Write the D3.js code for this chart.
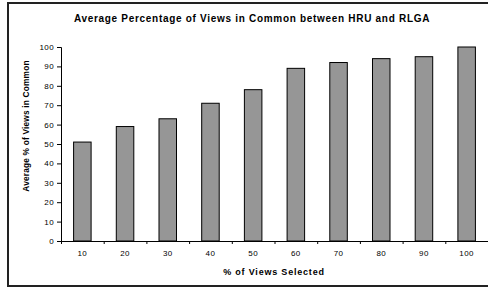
<!DOCTYPE html>
<html>
<head>
<meta charset="utf-8">
<script src="https://cdn.jsdelivr.net/npm/d3@7"></script>
<style>
  body { margin: 0; background: #fff; }
  text { font-family: "Liberation Sans", Arial, sans-serif; }
  .tick text { font-size: 8px; fill: #000; letter-spacing: 0.4px; }
  .axisTitle { font-weight: bold; }
</style>
</head>
<body>
<div id="chart"></div>
<script>
// Chart data
var categories = ["10", "20", "30", "40", "50", "60", "70", "80", "90", "100"];
var values = [51, 59, 63, 71, 78, 89, 92, 94, 95, 100];
var yTicks = [0, 10, 20, 30, 40, 50, 60, 70, 80, 90, 100];

var svgWidth = 488;
var svgHeight = 291;

// plot area edges
var plot = { left: 61, right: 488, top: 47, bottom: 241 };

var svg = d3.select("#chart")
  .append("svg")
  .attr("width", svgWidth)
  .attr("height", svgHeight);

// outer frame (right edge runs off the picture)
svg.append("rect")
  .attr("x", 8)
  .attr("y", 3)
  .attr("width", 500)
  .attr("height", 283)
  .attr("fill", "none")
  .attr("stroke", "#222")
  .attr("stroke-width", 2);

var data = categories.map(function(c, i) {
  return { cat: c, value: values[i] };
});

// Scales
var xScale = d3.scaleBand()
  .domain(categories)
  .range([plot.left, plot.right])
  .paddingInner(0.59)
  .paddingOuter(0.295);

var xEdge = d3.scaleLinear()
  .domain([0, categories.length])
  .range([plot.left, plot.right]);

var yScale = d3.scaleLinear()
  .domain([0, 100])
  .range([plot.bottom, plot.top]);

// Bars
svg.selectAll("rect.bar")
  .data(data)
  .enter()
  .append("rect")
  .attr("class", "bar")
  .attr("x", d => xScale(d.cat))
  .attr("y", d => yScale(d.value))
  .attr("width", xScale.bandwidth())
  .attr("height", d => yScale(0) - yScale(d.value))
  .attr("fill", "#969696")
  .attr("stroke", "#000")
  .attr("stroke-width", 1);

// Y axis
var leftAxis = d3.axisLeft(yScale)
  .tickValues(yTicks)
  .tickSize(4)
  .tickPadding(3);

svg.append("g")
  .attr("transform", `translate(${plot.left}, 0)`)
  .call(leftAxis)
  .call(g => g.select(".domain").attr("stroke", "#000"));

// X axis: tick marks at category boundaries
var edgeAxis = d3.axisBottom(xEdge)
  .tickValues(d3.range(0, categories.length + 1))
  .tickSize(3)
  .tickSizeOuter(0)
  .tickFormat("");

svg.append("g")
  .attr("transform", `translate(0, ${plot.bottom})`)
  .call(edgeAxis);

// X axis: labels at bar centres
var bottomAxis = d3.axisBottom(xScale)
  .tickSize(0)
  .tickPadding(9);

svg.append("g")
  .attr("transform", `translate(0, ${plot.bottom})`)
  .call(bottomAxis)
  .call(g => g.select(".domain").remove());

// Title
svg.append("text")
  .attr("x", 252)
  .attr("y", 22)
  .attr("text-anchor", "middle")
  .attr("font-size", "10px")
  .attr("font-weight", "bold")
  .attr("letter-spacing", "0.7px")
  .text("Average Percentage of Views in Common between HRU and RLGA");

// Axis titles
svg.append("text")
  .attr("class", "axisTitle")
  .attr("transform", "rotate(-90)")
  .attr("x", -126)
  .attr("y", 29)
  .attr("text-anchor", "middle")
  .attr("font-size", "8.3px")
  .attr("letter-spacing", "0.2px")
  .text("Average % of Views in Common");

svg.append("text")
  .attr("class", "axisTitle")
  .attr("x", 274)
  .attr("y", 275)
  .attr("text-anchor", "middle")
  .attr("font-size", "9px")
  .attr("letter-spacing", "0.8px")
  .text("% of Views Selected");
</script>
</body>
</html>
